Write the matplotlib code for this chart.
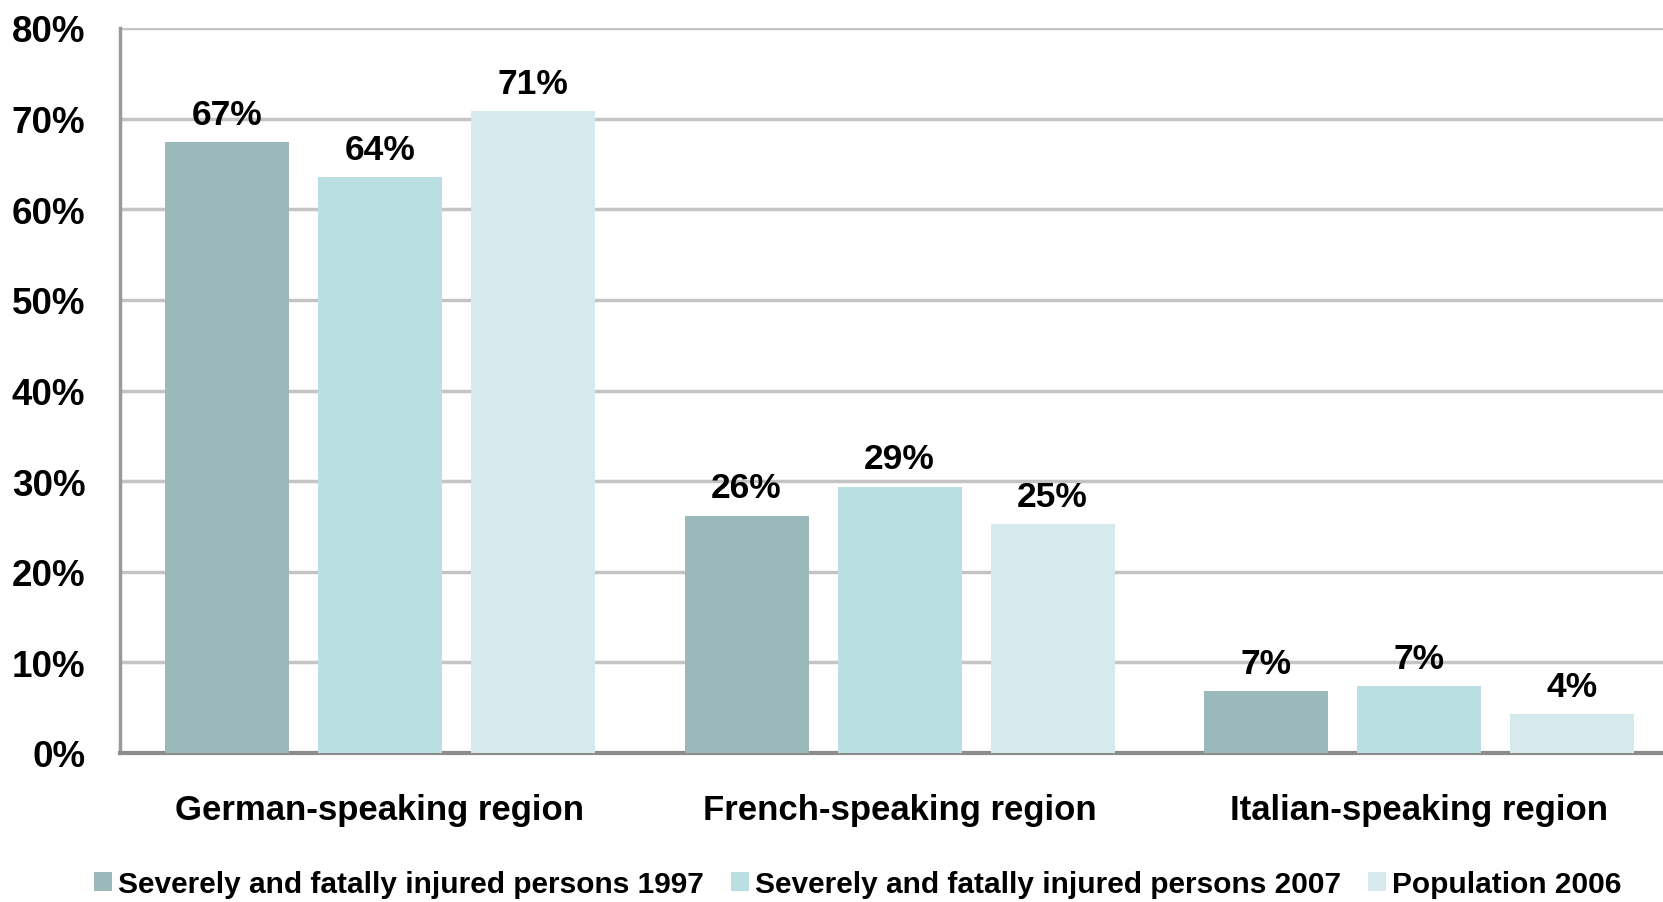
import matplotlib
matplotlib.use("Agg")
import matplotlib.pyplot as plt
import numpy as np
from matplotlib.patches import Patch
from matplotlib.ticker import FuncFormatter

plt.rcParams['font.family'] = ['Liberation Sans', 'DejaVu Sans']

categories = ["German-speaking region", "French-speaking region", "Italian-speaking region"]
series_names = ["Severely and fatally injured persons 1997",
                "Severely and fatally injured persons 2007",
                "Population 2006"]
values_1997 = [67.4, 26.2, 6.8]
values_2007 = [63.6, 29.4, 7.4]
values_pop = [70.8, 25.3, 4.3]
value_labels = [["67%", "26%", "7%"], ["64%", "29%", "7%"], ["71%", "25%", "4%"]]
colors = ["#9BB8BA", "#BADFE2", "#D6EAED"]

fig = plt.figure(figsize=(16.63, 9.03), dpi=100)
ax = fig.add_axes([120/1663, 1-754/903, 1-120/1663, (754-29)/903])

x = np.arange(len(categories))
width = 0.2386
offset = 0.2944
series = [values_1997, values_2007, values_pop]
for i, vals in enumerate(series):
    pos = x + (i-1)*offset
    bars = ax.bar(pos, vals, width, color=colors[i], zorder=3, label=series_names[i])
    for b, lab in zip(bars, value_labels[i]):
        ax.annotate(lab, (b.get_x()+b.get_width()/2, b.get_height()),
                    xytext=(0, 8), textcoords='offset points', ha='center', va='bottom',
                    fontsize=25.5, fontweight='bold', color='black', zorder=5)

ax.set_xlim(-0.5, (1663-120)/519.7 - 0.5)
ax.set_ylim(0, 80)
ax.set_yticks(np.arange(0, 81, 10))
ax.yaxis.set_major_formatter(FuncFormatter(lambda v, p: f"{int(v)}%"))
ax.grid(axis='y', color='#C4C4C4', linewidth=2.5, zorder=0)
ax.set_axisbelow(True)
for s in ['top', 'right']:
    ax.spines[s].set_visible(False)
ax.spines['left'].set_color('#999999')
ax.spines['left'].set_linewidth(2.5)
ax.spines['bottom'].set_color('#8C8C8C')
ax.spines['bottom'].set_linewidth(3)
ax.tick_params(axis='y', length=0, pad=25, labelsize=26.5)
ax.tick_params(axis='x', length=0, pad=29, labelsize=25)
for t in ax.get_yticklabels():
    t.set_fontweight('bold')
ax.set_xticks(x)
ax.set_xticklabels(categories, fontweight='bold')

handles = [Patch(facecolor=c, edgecolor='none') for c in colors]
fig.legend(handles, series_names, loc='center', bbox_to_anchor=(858/1663, 1-885.5/903),
           ncol=3, frameon=False, prop={'size': 21.5, 'weight': 'bold'},
           handlelength=0.6, handleheight=0.6, handletextpad=0.21, columnspacing=0.9,
           borderaxespad=0, borderpad=0)

fig.savefig("out.png", dpi=100)
